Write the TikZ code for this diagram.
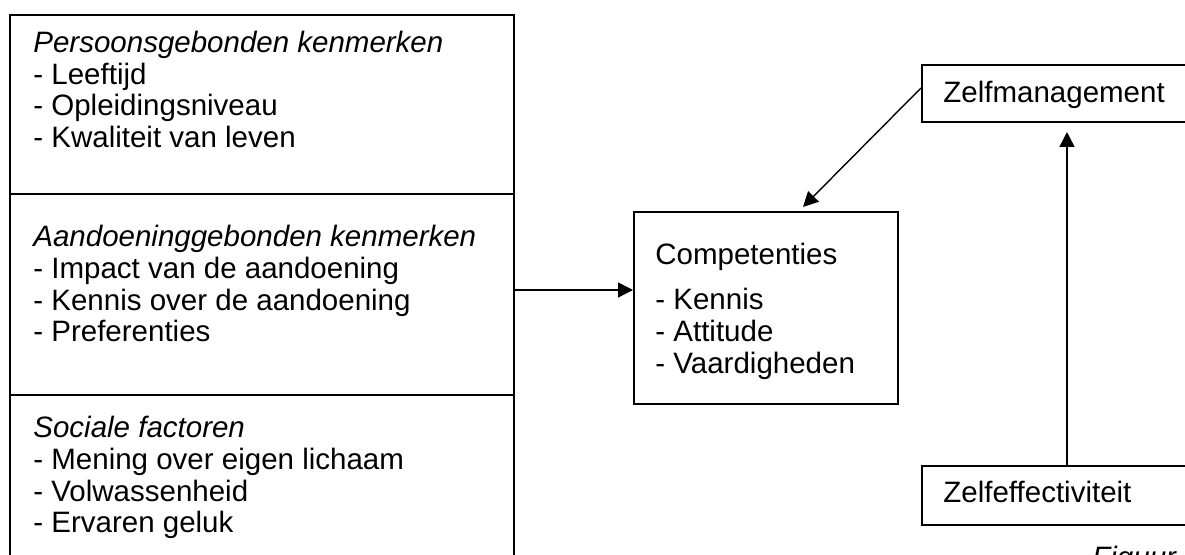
\documentclass[tikz,border=0pt]{standalone}
\usepackage{fontspec}
\setmainfont{Liberation Sans}
\usetikzlibrary{arrows.meta}
\tikzset{
  box/.style={draw=black, line width=1pt, rectangle, inner sep=0pt},
  txt/.style={anchor=base west, inner sep=0pt, font=\fontsize{14.75pt}{15.75pt}\selectfont},
  itxt/.style={txt, font=\fontsize{14.75pt}{15.75pt}\selectfont\itshape},
  arr/.style={line width=0.7pt, -{Triangle[length=7.5pt, width=7.5pt]}}
}
\begin{document}
\begin{tikzpicture}[x=0.5pt, y=-0.5pt]
\useasboundingbox (0,0) rectangle (1185,555);
\clip (0,0) rectangle (1185,555);
% left column boxes
\node[box, minimum width=252pt, minimum height=89.5pt] (s1) at (262,104.5) {};
\node[box, minimum width=252pt, minimum height=100.5pt] (s2) at (262,294.5) {};
\node[box, minimum width=252pt, minimum height=112.5pt] (s3) at (262,507.5) {};
% right boxes
\node[box, minimum width=132pt, minimum height=96pt] (comp) at (766,308) {};
\node[box, minimum width=145pt, minimum height=28.5pt] (zm) at (1067,93.5) {};
\node[box, minimum width=145pt, minimum height=29.5pt] (ze) at (1067,495.5) {};
% texts section 1
\node[itxt] (t11) at (33,53) {Persoonsgebonden kenmerken};
\node[txt] (t12) at (33,84.5) {- Leeftijd};
\node[txt] (t13) at (33,116) {- Opleidingsniveau};
\node[txt] (t14) at (33,147.5) {- Kwaliteit van leven};
% section 2
\node[itxt] (t21) at (33,247) {Aandoeninggebonden kenmerken};
\node[txt] (t22) at (33,279) {- Impact van de aandoening};
\node[txt] (t23) at (33,310.5) {- Kennis over de aandoening};
\node[txt] (t24) at (33,342) {- Preferenties};
% section 3
\node[itxt] (t31) at (33,438) {Sociale factoren};
\node[txt] (t32) at (33,470) {- Mening over eigen lichaam};
\node[txt] (t33) at (33,501.5) {- Volwassenheid};
\node[txt] (t34) at (33,533) {- Ervaren geluk};
% competenties
\node[txt] (c1) at (655,265) {Competenties};
\node[txt] (c2) at (655,310) {- Kennis};
\node[txt] (c3) at (655,342) {- Attitude};
\node[txt] (c4) at (655,374) {- Vaardigheden};
% zelf boxes text
\node[txt] (zmt) at (943,103) {Zelfmanagement};
\node[txt] (zet) at (943,503) {Zelfeffectiviteit};
% caption
\node[itxt] (fig) at (1092,568) {Figuur 9};
% connectors
\coordinate (hy) at (0,290);
\coordinate (d1) at (922,88);
\coordinate (d2) at (803,207);
\draw[arr] (s2.east |- hy) -- (comp.west |- hy);
\draw[arr] (zm.west |- d1) -- (d2);
\draw[arr, shorten >=4.5pt] (ze.north) -- (zm.south);
\end{tikzpicture}
\end{document}
